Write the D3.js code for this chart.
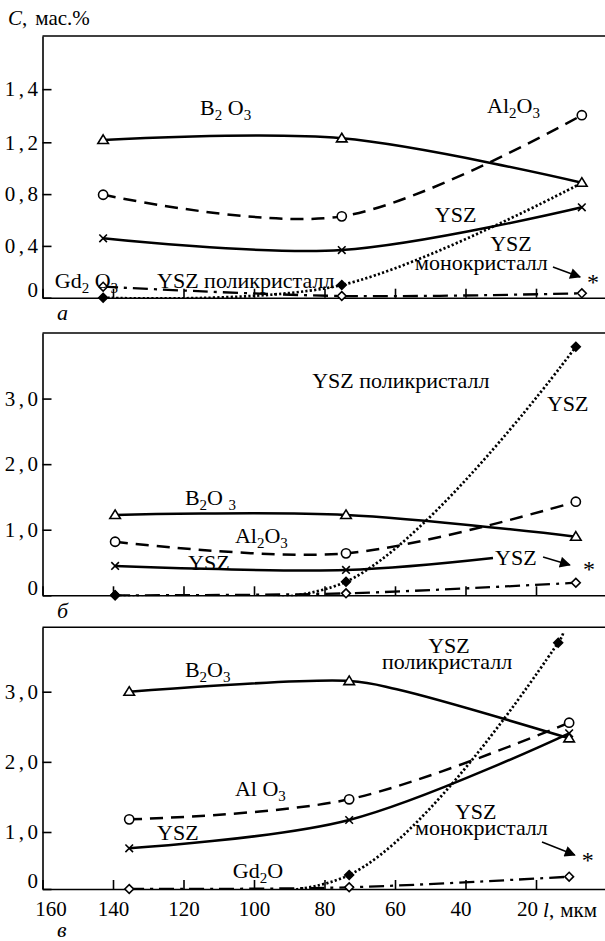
<!DOCTYPE html>
<html>
<head>
<meta charset="utf-8">
<script src="https://cdn.jsdelivr.net/npm/d3@7"></script>
<style>
  body { margin: 0; background: #fff; }
  svg, svg text { font-family: "Liberation Serif", "Times New Roman", "DejaVu Serif", serif; fill: #000; }
</style>
</head>
<body>
<svg id="chart" width="605" height="941" font-family="Liberation Serif, serif"></svg>
<script>
// ---- data: l in мкм, C in мас.% ----
const ticksX = [160, 140, 120, 100, 80, 60, 40, 20];

const ticksA = [0, 0.4, 0.8, 1.2, 1.4];
const tickTextA = ["0", "0,4", "0,8", "1,2", "1,4"];
const ticksBC = [0, 1, 2, 3];
const tickTextBC = ["0", "1,0", "2,0", "3,0"];

// panel а
const lA = [142.8, 75.1, 7.0];
const b2o3A = [1.209, 1.215, 0.888];
const al2o3A = [0.795, 0.628, 1.302];
const yszA = [0.459, 0.368, 0.698];
const polyA = [0.0, 0.098, 0.886];
const gd2o3A = [0.085, 0.013, 0.034];

// panel б
const lB = [139.4, 73.9, 8.7];
const b2o3B = [1.225, 1.225, 0.894];
const al2o3B = [0.817, 0.64, 1.427];
const lYszB = [139.4, 73.9, 32.2];
const yszB = [0.447, 0.386, 0.569];
const polyB = [0.0, 0.207, 3.79];
const gd2o3B = [0.0, 0.03, 0.192];

// panel в
const lC = [135.4, 73.0, 10.6];
const lB2o3C = [135.4, 73.0, 59.5, 10.6];
const b2o3C = [3.0, 3.153, 3.034, 2.336];
const al2o3C = [1.18, 1.466, 2.558];
const yszC = [0.714, 1.171, 2.407];
const lPolyC = [135.4, 73.0, 13.7, 12.3];
const polyC = [0.0, 0.246, 3.70, 3.834];
const gd2o3C = [0.0, 0.03, 0.216];

// annotations [text, l, C]
const notesA = [
  ["B_2 O_3", 115.3, 1.302], ["Al_2O_3", 33.9, 1.31], ["YSZ", 48.7, 0.585],
  ["YSZ", 33, 0.36], ["монокристалл", 54.3, 0.215], ["*", 5.5, 0.056],
  ["Gd_2 O_3", 156.5, 0.075], ["YSZ поликристалл", 127.5, 0.075]
];
const arrowA = [[15.2, 0.237], [7.5, 0.16]];
const notesB = [
  ["YSZ поликристалл", 83.5, 3.16], ["YSZ", 16.9, 2.81], ["B_2O _3", 119.6, 1.376],
  ["Al_2O_3", 105.4, 0.797], ["YSZ", 118.7, 0.386], ["YSZ", 31.6, 0.462], ["*", 6.7, 0.279]
];
const arrowB = [[18, 0.584], [10.4, 0.462]];
const notesC = [
  ["B_2O_3", 119.6, 3.21], ["YSZ", 50.6, 3.55], ["поликристалл", 63.7, 3.33],
  ["Al O_3", 105.4, 1.513], ["YSZ", 127.5, 0.86], ["Gd_2O", 106, 0.193],
  ["YSZ", 43, 1.18], ["монокристалл", 54.3, 0.95], ["*", 7, 0.368]
];
const arrowC = [[18.3, 0.825], [9, 0.596]];
const panelLetters = [["а", 155.9, -0.172], ["б", 155.9, -0.346], ["в", 155.9, -0.84]];

// ---- layout ----
const W = 605;
const x = d3.scaleLinear().domain([160, 0]).range([42.5, 606.5]);

const styles = {
  b2o3: { dash: null, width: 2.5, mark: "tri" },
  al2o3: { dash: "13,8", width: 2.5, mark: "circle" },
  ysz: { dash: null, width: 2.5, mark: "cross" },
  gd2o3: { dash: "15,6,3,6", width: 2.3, mark: "open" },
  poly: { dash: "2.2,2.2", width: 2.7, mark: "filled" }
};

const panels = [
  {
    y: d3.scaleLinear().domain([0, 1.2, 1.6]).range([297.7, 142.3, 36]),
    ticks: ticksA, tickText: tickTextA, xLabels: false,
    series: [
      { s: "b2o3", l: lA, c: b2o3A },
      { s: "al2o3", l: lA, c: al2o3A },
      { s: "ysz", l: lA, c: yszA },
      { s: "gd2o3", l: lA, c: gd2o3A },
      { s: "poly", l: lA, c: polyA, hide: [2] }
    ],
    notes: notesA, arrow: arrowA, letter: panelLetters[0]
  },
  {
    y: d3.scaleLinear().domain([0, 4]).range([595.3, 333]),
    ticks: ticksBC, tickText: tickTextBC, xLabels: false,
    series: [
      { s: "b2o3", l: lB, c: b2o3B },
      { s: "al2o3", l: lB, c: al2o3B },
      { s: "ysz", l: lYszB, c: yszB, hide: [2] },
      { s: "gd2o3", l: lB, c: gd2o3B },
      { s: "poly", l: lB, c: polyB }
    ],
    notes: notesB, arrow: arrowB, letter: panelLetters[1]
  },
  {
    y: d3.scaleLinear().domain([0, 1, 3, 3.92]).range([889, 832, 691.7, 627.3]),
    ticks: ticksBC, tickText: tickTextBC, xLabels: true,
    series: [
      { s: "b2o3", l: lB2o3C, c: b2o3C, hide: [2] },
      { s: "al2o3", l: lC, c: al2o3C },
      { s: "ysz", l: lC, c: yszC },
      { s: "poly", l: lPolyC, c: polyC, hide: [0, 3] },
      { s: "gd2o3", l: lC, c: gd2o3C }
    ],
    notes: notesC, arrow: arrowC, letter: panelLetters[2]
  }
];

const svg = d3.select("#chart");
const defs = svg.append("defs");
defs.append("marker")
  .attr("id", "arr")
  .attr("viewBox", "0 0 10 10")
  .attr("refX", 9).attr("refY", 5)
  .attr("markerWidth", 13).attr("markerHeight", 11)
  .attr("markerUnits", "userSpaceOnUse")
  .attr("orient", "auto")
  .append("path").attr("d", "M0,0L10,5L0,10Z").attr("fill", "#000");

function markPath(kind, r) {
  if (kind === "tri") return `M0,${-r * 1.05}L${r * 1.1},${r * 0.75}L${-r * 1.1},${r * 0.75}Z`;
  if (kind === "cross") return `M${-r},${-r}L${r},${r}M${-r},${r}L${r},${-r}`;
  return `M0,${-r}L${r},0L0,${r}L${-r},0Z`;
}

// text with "_x" subscripts
function richText(sel, str) {
  let low = false;
  str.split(/(_\w)/).filter((s) => s).forEach((part) => {
    if (part[0] === "_") {
      sel.append("tspan").attr("font-size", 15).attr("dy", low ? 0 : 5).text(part.slice(1));
      low = true;
    } else {
      sel.append("tspan").attr("dy", low ? -5 : 0).text(part);
      low = false;
    }
  });
}

panels.forEach((p, pi) => {
  const g = svg.append("g");
  const [bottom, top] = [p.y.range()[0], p.y.range()[p.y.range().length - 1]];

  g.append("clipPath").attr("id", "clip" + pi)
    .append("rect")
    .attr("x", x.range()[0]).attr("y", top)
    .attr("width", W - x.range()[0]).attr("height", bottom - top + 1);

  // top frame line
  g.append("line")
    .attr("x1", x.range()[0]).attr("x2", W)
    .attr("y1", top).attr("y2", top)
    .attr("stroke", "#000").attr("stroke-width", 1.6);

  // x axis
  const ax = g.append("g")
    .attr("transform", `translate(0,${bottom})`)
    .call(d3.axisBottom(x).tickValues(ticksX).tickSizeInner(-9).tickSizeOuter(0)
      .tickPadding(12).tickFormat(p.xLabels ? d3.format("d") : () => ""));
  ax.attr("font-family", null).attr("font-size", 21);
  ax.selectAll("path, line").attr("stroke-width", 1.6);
  ax.selectAll(".tick text")
    .attr("dx", (d) => (d === 160 ? 8 : d === 20 ? -9 : d === 40 ? -5 : 0));

  // y axis
  const ay = g.append("g")
    .attr("transform", `translate(${x.range()[0]},0)`)
    .call(d3.axisLeft(p.y).tickValues(p.ticks).tickSizeInner(-9).tickSizeOuter(0)
      .tickPadding(1).tickFormat((d, i) => p.tickText[i]));
  ay.attr("font-family", null).attr("font-size", 21);
  ay.selectAll("path, line").attr("stroke-width", 1.6);
  ay.selectAll(".tick text")
    .attr("letter-spacing", 3.5)
    .attr("dy", (d) => (d === 0 ? "-0.05em" : "0.32em"));

  // curves
  const line = d3.line()
    .x((d) => x(d[0]))
    .y((d) => p.y(d[1]))
    .curve(d3.curveCatmullRom.alpha(0.5));

  const lines = g.append("g").attr("clip-path", `url(#clip${pi})`);
  p.series.forEach((se) => {
    const st = styles[se.s];
    lines.append("path")
      .datum(se.l.map((l, i) => [l, se.c[i]]))
      .attr("d", line)
      .attr("fill", "none")
      .attr("stroke", "#000")
      .attr("stroke-width", st.width)
      .attr("stroke-dasharray", st.dash);
  });

  // markers
  p.series.forEach((se) => {
    const st = styles[se.s];
    const pts = se.l.map((l, i) => [l, se.c[i], i]).filter((d) => !(se.hide || []).includes(d[2]));
    const mg = g.append("g");
    if (st.mark === "circle") {
      mg.selectAll("circle").data(pts).join("circle")
        .attr("cx", (d) => x(d[0])).attr("cy", (d) => p.y(d[1])).attr("r", 4.6)
        .attr("fill", "#fff").attr("stroke", "#000").attr("stroke-width", 1.6);
    } else {
      const r = st.mark === "cross" ? 3.8 : st.mark === "tri" ? 4.8 : 4.4;
      mg.selectAll("path").data(pts).join("path")
        .attr("transform", (d) => `translate(${x(d[0])},${p.y(d[1])})`)
        .attr("d", markPath(st.mark, r))
        .attr("fill", st.mark === "filled" ? "#000" : st.mark === "cross" ? "none" : "#fff")
        .attr("stroke", "#000").attr("stroke-width", 1.6);
    }
  });

  // annotations
  p.notes.forEach(([t, l, c]) => {
    const tx = g.append("text")
      .attr("x", x(l)).attr("y", p.y(c))
      .attr("font-size", t === "*" ? 24 : 22);
    richText(tx, t);
  });
  g.append("path")
    .attr("d", d3.line()(p.arrow.map(([l, c]) => [x(l), p.y(c)])))
    .attr("stroke", "#000").attr("stroke-width", 1.5)
    .attr("marker-end", "url(#arr)");

  g.append("text")
    .attr("x", x(p.letter[1])).attr("y", p.y(p.letter[2]))
    .attr("font-size", 22).attr("font-style", "italic")
    .text(p.letter[0]);
});

// axis titles
const yTitle = svg.append("text").attr("x", 8).attr("y", 25).attr("font-size", 21);
yTitle.append("tspan").attr("font-style", "italic").text("C");
yTitle.append("tspan").text(",");
yTitle.append("tspan").attr("dx", 8).text("мас.%");

const xTitle = svg.append("text").attr("x", x(18)).attr("y", 917).attr("font-size", 21);
xTitle.append("tspan").attr("font-style", "italic").text("l");
xTitle.append("tspan").text(",");
xTitle.append("tspan").attr("dx", 6).text("мкм");
</script>
</body>
</html>
